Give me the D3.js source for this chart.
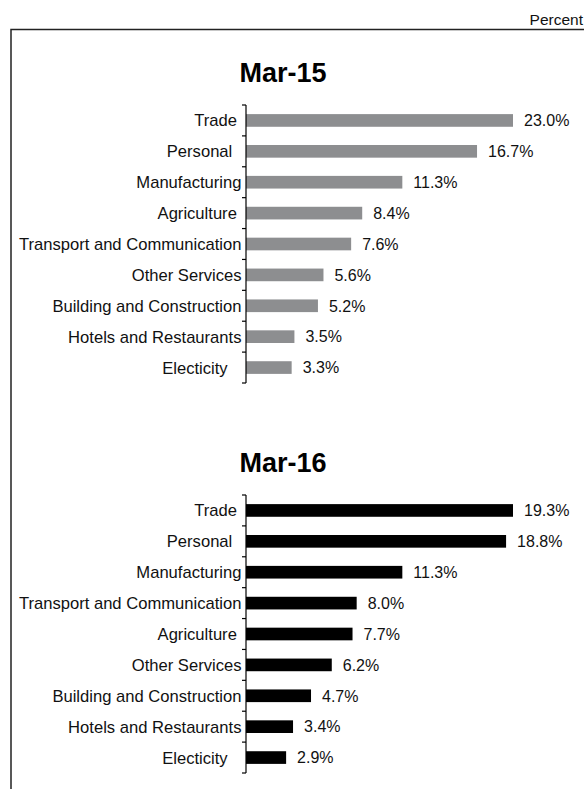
<!DOCTYPE html>
<html>
<head>
<meta charset="utf-8">
<script src="https://cdn.jsdelivr.net/npm/d3@7"></script>
<style>
  html, body { margin: 0; padding: 0; background: #fff; }
  svg { display: block; font-family: "Liberation Sans", Arial, Helvetica, sans-serif; }
  text { white-space: pre; }
</style>
</head>
<body>
<svg id="chart" width="584" height="789"></svg>
<script>
// ---- data ----
const unitLabel = "Percent";
const titles = ["Mar-15", "Mar-16"];
const categories15 = ["Trade ", "Personal  ", "Manufacturing", "Agriculture ", "Transport and Communication", "Other Services", "Building and Construction", "Hotels and Restaurants", "Electicity   "];
const values15 = [23.0, 16.7, 11.3, 8.4, 7.6, 5.6, 5.2, 3.5, 3.3];
const categories16 = ["Trade ", "Personal  ", "Manufacturing", "Transport and Communication", "Agriculture ", "Other Services", "Building and Construction", "Hotels and Restaurants", "Electicity   "];
const values16 = [19.3, 18.8, 11.3, 8.0, 7.7, 6.2, 4.7, 3.4, 2.9];
const axisMax = 19.3; // bars beyond this are clipped in the original

const svg = d3.select("#chart");

// frame (top and left edges visible)
svg.append("path")
  .attr("d", "M11,789 V29.5 H584")
  .attr("fill", "none")
  .attr("stroke", "#222")
  .attr("stroke-width", 1.5);

svg.append("text")
  .attr("x", 583).attr("y", 25)
  .attr("text-anchor", "end")
  .attr("font-size", 15.5)
  .attr("fill", "#111")
  .text(unitLabel);

const axisX = 246;
const x = d3.scaleLinear().domain([0, axisMax]).range([axisX, axisX + 267]).clamp(true);

const panels = [
  { title: titles[0], cats: categories15, vals: values15, color: "#8d8e90", top: 105, titleY: 82 },
  { title: titles[1], cats: categories16, vals: values16, color: "#000000", top: 495, titleY: 472 }
];

panels.forEach(p => {
  const g = svg.append("g");
  const y = d3.scaleBand().domain(p.cats).range([p.top, p.top + 278]).paddingInner(0.59).paddingOuter(0.295);
  const yTicks = d3.scaleBand().domain(p.cats).range([p.top, p.top + 278]);

  g.append("text")
    .attr("x", 283).attr("y", p.titleY)
    .attr("text-anchor", "middle")
    .attr("font-size", 27)
    .attr("font-weight", "bold")
    .attr("fill", "#000")
    .text(p.title);

  // bars
  g.selectAll("rect.bar").data(p.cats).join("rect")
    .attr("class", "bar")
    .attr("x", x(0))
    .attr("y", d => y(d))
    .attr("height", y.bandwidth())
    .attr("width", (d, i) => x(p.vals[i]) - x(0))
    .attr("fill", p.color);

  // value labels
  g.selectAll("text.val").data(p.cats).join("text")
    .attr("class", "val")
    .attr("x", (d, i) => x(p.vals[i]) + 11)
    .attr("y", d => y(d) + y.bandwidth() / 2)
    .attr("dy", "0.36em")
    .attr("font-size", 16)
    .attr("fill", "#111")
    .text((d, i) => p.vals[i].toFixed(1) + "%");

  // category labels
  g.selectAll("text.cat").data(p.cats).join("text")
    .attr("class", "cat")
    .attr("x", axisX - 4.5)
    .attr("y", d => yTicks(d) + yTicks.bandwidth() / 2)
    .attr("dy", "0.36em")
    .attr("text-anchor", "end")
    .attr("font-size", 16.6)
    .attr("fill", "#111")
    .text(d => d);

  // axis line and ticks at band boundaries
  const bounds = p.cats.map(c => yTicks(c)).concat([p.top + 278]);
  g.append("line")
    .attr("x1", axisX).attr("x2", axisX)
    .attr("y1", p.top).attr("y2", p.top + 278)
    .attr("stroke", "#000").attr("stroke-width", 1.2);
  g.selectAll("line.tick").data(bounds).join("line")
    .attr("class", "tick")
    .attr("x1", axisX - 4).attr("x2", axisX)
    .attr("y1", d => d).attr("y2", d => d)
    .attr("stroke", "#000").attr("stroke-width", 1.2);
});
</script>
</body>
</html>
